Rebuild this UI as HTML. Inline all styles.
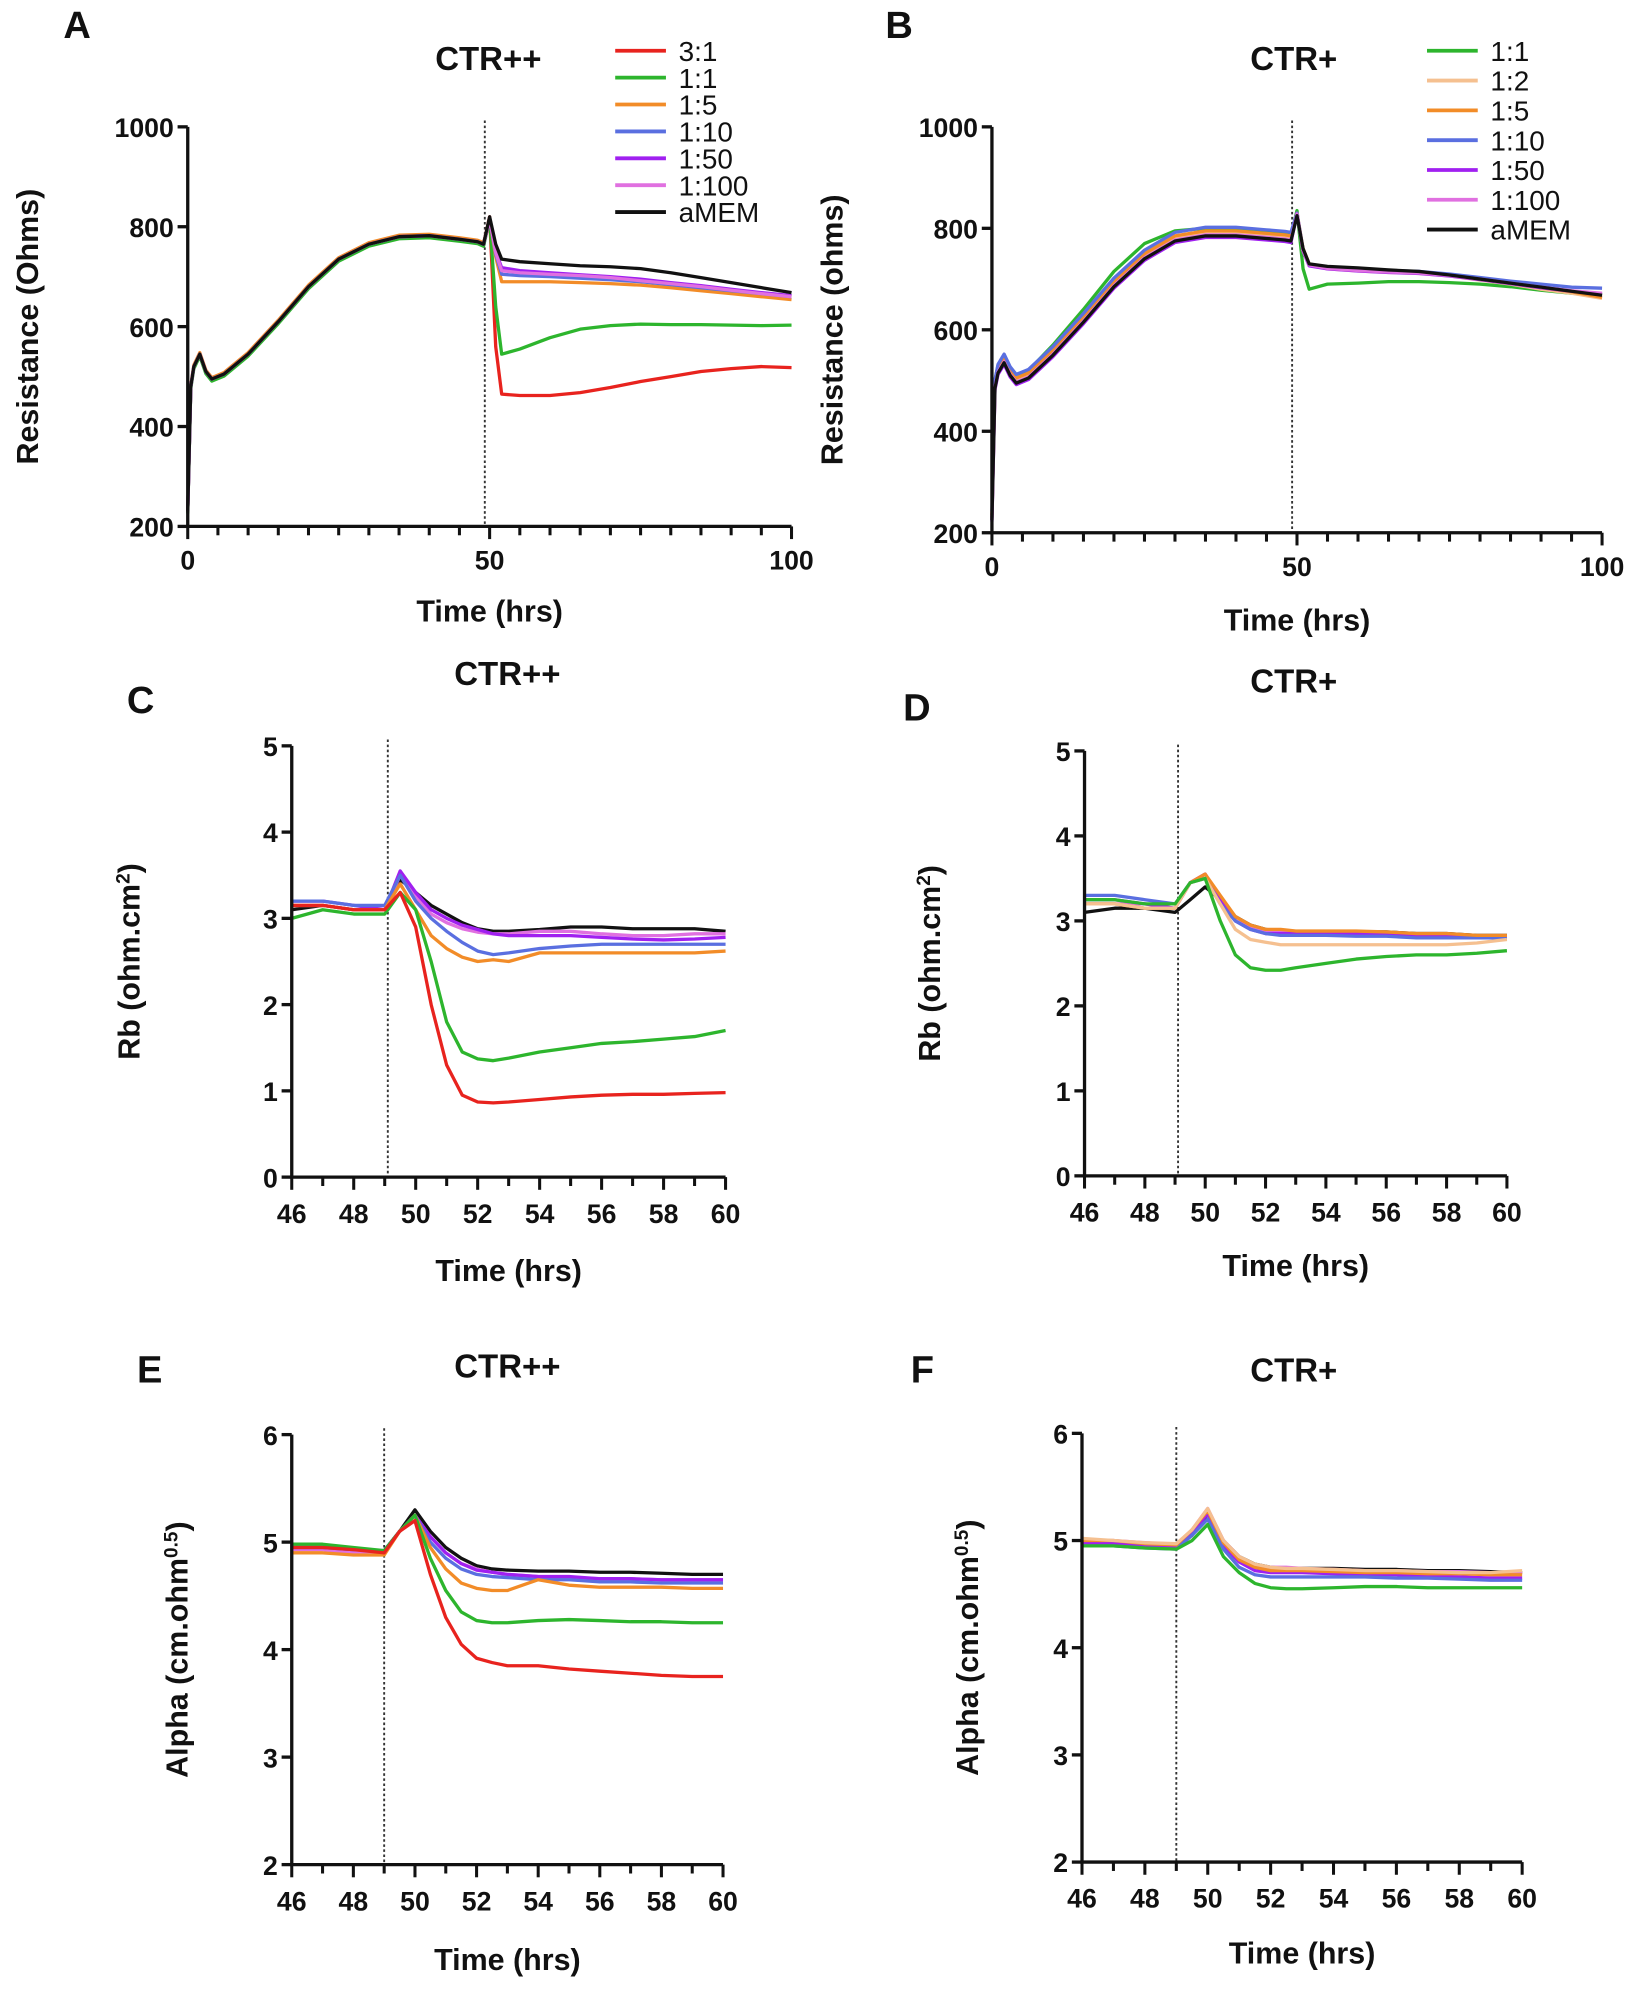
<!DOCTYPE html>
<html><head><meta charset="utf-8"><style>
html,body{margin:0;padding:0;background:#fff}
svg{display:block}
text{font-family:"Liberation Sans",Arial,sans-serif;font-weight:bold;fill:#111}
text.leg{font-weight:normal}
</style></head><body>
<svg id="fig" width="1649" height="1994" viewBox="0 0 1300 1572" xmlns="http://www.w3.org/2000/svg"></svg>
<script>
// ---- Panel A/B time points ----
const tAB = [0,0.5,1,2,3,4,6,10,15,20,25,30,35,40,45,48,49,50,51,52,55,60,65,70,75,80,85,90,95,100];
const preA = [230,480,520,545,510,495,505,545,610,680,735,765,780,782,775,770,765];
const a31 = [820,560,465,462,462,468,478,490,500,510,516,520,518];
const a11 = [815,640,545,555,578,595,602,605,604,604,603,602,603];
const a15 = [815,740,690,690,690,688,686,683,678,672,666,660,654];
const a110 = [815,745,705,702,700,697,694,690,684,678,672,666,660];
const a150 = [815,750,718,712,708,704,700,695,688,682,675,668,662];
const a1100 = [815,748,712,708,705,702,698,692,686,680,673,666,660];
const aMEM = [820,765,735,730,726,722,720,716,708,698,688,678,668];

const preB1 = [230,500,530,545,525,512,520,570,640,715,770,795,800,800,795,790,785];
const preB = [230,490,520,540,515,500,510,555,620,690,745,780,790,790,785,782,780];
const b11 = [835,720,680,690,692,695,695,693,690,685,678,672,668];
const b12 = [830,755,728,720,716,713,711,706,698,690,680,672,662];
const b15 = [830,760,730,722,718,715,713,708,700,692,683,675,664];
const b110 = [830,758,728,722,720,717,715,710,703,696,690,684,682];
const b150 = [828,755,726,720,716,713,711,706,699,691,683,676,670];
const b1100 = [828,757,728,721,717,714,712,707,700,692,684,677,672];
const bMEM = [825,760,730,725,722,718,715,708,700,692,684,676,668];

// ---- Panels C-F time points ----
const tCF = [46,47,48,49,49.5,50,50.5,51,51.5,52,52.5,53,54,55,56,57,58,59,60];
const c31 = [3.15,3.15,3.1,3.1,3.3,2.9,2.0,1.3,0.95,0.87,0.86,0.87,0.9,0.93,0.95,0.96,0.96,0.97,0.98];
const c11 = [3.0,3.1,3.05,3.05,3.3,3.1,2.5,1.8,1.45,1.37,1.35,1.38,1.45,1.5,1.55,1.57,1.6,1.63,1.7];
const c15 = [3.15,3.15,3.1,3.1,3.4,3.1,2.8,2.65,2.55,2.5,2.52,2.5,2.6,2.6,2.6,2.6,2.6,2.6,2.62];
const c110 = [3.2,3.2,3.15,3.15,3.5,3.2,3.0,2.85,2.72,2.62,2.58,2.6,2.65,2.68,2.7,2.7,2.7,2.7,2.7];
const c150 = [3.2,3.2,3.15,3.1,3.55,3.3,3.1,3.0,2.92,2.87,2.82,2.8,2.8,2.8,2.78,2.76,2.75,2.76,2.78];
const c1100 = [3.15,3.15,3.1,3.1,3.5,3.25,3.05,2.95,2.88,2.84,2.82,2.82,2.85,2.85,2.82,2.8,2.8,2.82,2.82];
const cMEM = [3.1,3.15,3.1,3.1,3.45,3.3,3.15,3.05,2.95,2.88,2.85,2.85,2.87,2.9,2.9,2.88,2.88,2.88,2.85];

const d11 = [3.25,3.25,3.2,3.2,3.45,3.5,3.0,2.6,2.45,2.42,2.42,2.45,2.5,2.55,2.58,2.6,2.6,2.62,2.65];
const d12 = [3.2,3.2,3.15,3.15,3.45,3.5,3.2,2.9,2.78,2.75,2.72,2.72,2.72,2.72,2.72,2.72,2.72,2.74,2.78];
const d15 = [3.2,3.2,3.15,3.15,3.45,3.55,3.3,3.05,2.95,2.9,2.9,2.88,2.88,2.88,2.87,2.85,2.85,2.83,2.83];
const d110 = [3.3,3.3,3.25,3.2,3.45,3.5,3.2,3.0,2.9,2.85,2.83,2.83,2.83,2.82,2.82,2.8,2.8,2.8,2.8];
const d150 = [3.25,3.25,3.2,3.15,3.45,3.55,3.25,3.0,2.9,2.85,2.85,2.85,2.85,2.85,2.85,2.83,2.82,2.8,2.8];
const d1100 = [3.2,3.2,3.2,3.15,3.45,3.55,3.25,3.0,2.92,2.88,2.88,2.87,2.85,2.85,2.85,2.83,2.83,2.82,2.82];
const dMEM = [3.1,3.15,3.15,3.1,3.25,3.4,3.25,3.05,2.95,2.9,2.88,2.87,2.87,2.87,2.87,2.85,2.85,2.83,2.83];

const e31 = [4.95,4.95,4.93,4.9,5.1,5.2,4.7,4.3,4.05,3.92,3.88,3.85,3.85,3.82,3.8,3.78,3.76,3.75,3.75];
const e11 = [4.98,4.98,4.95,4.92,5.1,5.25,4.85,4.55,4.35,4.27,4.25,4.25,4.27,4.28,4.27,4.26,4.26,4.25,4.25];
const e15 = [4.9,4.9,4.88,4.88,5.1,5.25,4.95,4.75,4.62,4.57,4.55,4.55,4.65,4.6,4.58,4.58,4.58,4.57,4.57];
const e110 = [4.95,4.95,4.93,4.92,5.1,5.25,5.0,4.85,4.75,4.7,4.68,4.67,4.65,4.65,4.63,4.63,4.62,4.62,4.62];
const e150 = [4.95,4.95,4.93,4.92,5.1,5.25,5.05,4.9,4.8,4.74,4.72,4.7,4.68,4.68,4.66,4.66,4.65,4.65,4.65];
const e1100 = [4.93,4.93,4.9,4.9,5.1,5.25,5.05,4.9,4.8,4.75,4.72,4.7,4.68,4.67,4.66,4.66,4.65,4.65,4.65];
const eMEM = [4.95,4.95,4.93,4.92,5.1,5.3,5.1,4.95,4.85,4.78,4.75,4.74,4.73,4.73,4.72,4.72,4.71,4.7,4.7];

const f11 = [4.95,4.95,4.93,4.92,5.0,5.15,4.85,4.7,4.6,4.56,4.55,4.55,4.56,4.57,4.57,4.56,4.56,4.56,4.56];
const f12 = [5.02,5.0,4.98,4.97,5.1,5.3,5.0,4.85,4.78,4.75,4.74,4.74,4.73,4.72,4.72,4.71,4.7,4.7,4.72];
const f15 = [5.0,5.0,4.97,4.96,5.1,5.28,4.98,4.82,4.75,4.72,4.72,4.72,4.71,4.7,4.7,4.69,4.69,4.68,4.68];
const f110 = [4.95,4.95,4.93,4.92,5.05,5.2,4.92,4.75,4.68,4.66,4.66,4.66,4.66,4.66,4.65,4.65,4.64,4.63,4.63];
const f150 = [4.97,4.97,4.95,4.93,5.08,5.25,4.95,4.8,4.72,4.7,4.7,4.7,4.69,4.68,4.68,4.67,4.66,4.65,4.65];
const f1100 = [5.0,5.0,4.98,4.96,5.1,5.3,5.0,4.85,4.77,4.75,4.75,4.74,4.73,4.72,4.72,4.71,4.71,4.7,4.7];
const fMEM = [4.97,4.97,4.95,4.93,5.05,5.25,5.0,4.85,4.78,4.75,4.74,4.74,4.74,4.73,4.73,4.72,4.72,4.71,4.7];

const C = {red:"#e8231e",green:"#2db52d",orange:"#f28c28",blue:"#5a6fe0",purple:"#a020f0",pink:"#e070e0",peach:"#f5c090",black:"#111"};
const NS = "http://www.w3.org/2000/svg";
const svg = document.getElementById("fig");
function el(tag, attrs, parent, txt){
  const e = document.createElementNS(NS, tag);
  for (const k in attrs) e.setAttribute(k, attrs[k]);
  if (txt !== undefined) e.textContent = txt;
  (parent||svg).appendChild(e);
  return e;
}

function panel(p){
  const g = el("g", {});
  
  
  const sx = v => p.x0 + (v - p.xmin) / (p.xmax - p.xmin) * (p.x1 - p.x0);
  const sy = v => p.y0 - (v - p.ymin) / (p.ymax - p.ymin) * (p.y0 - p.y1);
  const L = el("text", {x:p.lx, y:p.ly, "font-size":30}, g, p.letter);
  
  
  const T = el("text", {x:p.tx, y:p.ty, "font-size":26, "text-anchor":"middle"}, g, p.title);
  
  
  const dl = el("line", {x1:sx(p.dot), x2:sx(p.dot), y1:p.y1-5, y2:p.y0, stroke:"#333", "stroke-width":1.5, "stroke-dasharray":"2,2"}, g);
  
  
  p.series.forEach(s => {
    let d = "";
    s.t.forEach((t,i) => { d += (i? "L":"M") + sx(t).toFixed(1) + "," + sy(s.v[i]).toFixed(1); });
    const path = el("path", {d:d, fill:"none", stroke:s.c, "stroke-width":2.6, "stroke-linejoin":"round"}, g);
    
    
  });
  const ax = el("path", {d:`M${p.x0},${p.y1}L${p.x0},${p.y0}L${p.x1},${p.y0}`, fill:"none", stroke:"#111", "stroke-width":2.6}, g);
  
  
  p.yticks.forEach(v => {
    el("line", {x1:p.x0-8, x2:p.x0, y1:sy(v), y2:sy(v), stroke:"#111", "stroke-width":2.6}, g);
    const t = el("text", {x:p.x0-11, y:sy(v)+8, "font-size":21, "text-anchor":"end"}, g, v);
    
    
  });
  for (let v = p.xmin; v <= p.xmax + 1e-9; v += p.xminor) {
    const major = p.xticks.includes(Math.round(v*100)/100);
    el("line", {x1:sx(v), x2:sx(v), y1:p.y0, y2:p.y0 + (major?10:7), stroke:"#111", "stroke-width":2.4}, g);
  }
  p.xticks.forEach(v => {
    const t = el("text", {x:sx(v), y:p.y0+p.xlo, "font-size":21, "text-anchor":"middle"}, g, v);
    
    
  });
  const xt = el("text", {x:(p.x0+p.x1)/2, y:p.xty, "font-size":24, "text-anchor":"middle"}, g, "Time (hrs)");
  
  
  const yt = el("text", {x:0, y:0, "font-size":24, "text-anchor":"middle", transform:`translate(${p.ytx},${(p.y0+p.y1)/2}) rotate(-90)`}, g);
  
  
  el("tspan", {}, yt, p.ytitle);
  if (p.sup) {
    el("tspan", {"baseline-shift":"super", "font-size":15}, yt, p.sup);
    el("tspan", {}, yt, ")");
  }
  if (p.legend) {
    p.series.forEach((s,i) => {
      const y = p.legend.y + i * p.legend.dy;
      const lg = el("g", {}, g);
      
      
      el("line", {x1:p.legend.x, x2:p.legend.x+40, y1:y, y2:y, stroke:s.c, "stroke-width":3}, lg);
      el("text", {x:p.legend.x+50, y:y+8, "font-size":22, "class":"leg"}, lg, s.label);
    });
  }
}

function mk(pre, post){ return pre.concat(post); }
function S(label, c, t, v){ return {label, c, t, v}; }

panel({name:"panel-a", letter:"A", lx:50, ly:30, title:"CTR++", tx:385, ty:55,
  x0:148, x1:624, y0:415, y1:100, xmin:0, xmax:100, ymin:200, ymax:1000,
  yticks:[200,400,600,800,1000], xticks:[0,50,100], xminor:5, xlo:34, xty:490, dot:49.2,
  ytx:30, ytitle:"Resistance (Ohms)", legend:{x:485, y:40, dy:21.2},
  series:[S("3:1",C.red,tAB,mk(preA,a31)), S("1:1",C.green,tAB,mk(preA.map(v=>v-4),a11)),
    S("1:5",C.orange,tAB,mk(preA.map(v=>v+3),a15)), S("1:10",C.blue,tAB,mk(preA,a110)),
    S("1:50",C.purple,tAB,mk(preA,a150)), S("1:100",C.pink,tAB,mk(preA,a1100)),
    S("aMEM",C.black,tAB,mk(preA,aMEM))]});

panel({name:"panel-b", letter:"B", lx:698, ly:30, title:"CTR+", tx:1020, ty:55,
  x0:782, x1:1263, y0:420, y1:100, xmin:0, xmax:100, ymin:200, ymax:1000,
  yticks:[200,400,600,800,1000], xticks:[0,50,100], xminor:5, xlo:34, xty:497, dot:49.2,
  ytx:664, ytitle:"Resistance (ohms)", legend:{x:1125, y:40, dy:23.5},
  series:[S("1:1",C.green,tAB,mk(preB1,b11)), S("1:2",C.peach,tAB,mk(preB,b12)),
    S("1:5",C.orange,tAB,mk(preB.map(v=>v+5),b15)), S("1:10",C.blue,tAB,mk(preB.map(v=>v+12),b110)),
    S("1:50",C.purple,tAB,mk(preB.map(v=>v-8),b150)), S("1:100",C.pink,tAB,mk(preB.map(v=>v-3),b1100)),
    S("aMEM",C.black,tAB,mk(preB.map(v=>v-5),bMEM))]});

panel({name:"panel-c", letter:"C", lx:100, ly:562, title:"CTR++", tx:400, ty:540,
  x0:230, x1:572, y0:928, y1:588, xmin:46, xmax:60, ymin:0, ymax:5,
  yticks:[0,1,2,3,4,5], xticks:[46,48,50,52,54,56,58,60], xminor:1, xlo:36, xty:1010, dot:49.1,
  ytx:110, ytitle:"Rb (ohm.cm", sup:"2",
  series:[S("aMEM",C.black,tCF,cMEM), S("1:100",C.pink,tCF,c1100), S("1:50",C.purple,tCF,c150),
    S("1:10",C.blue,tCF,c110), S("1:5",C.orange,tCF,c15), S("1:1",C.green,tCF,c11), S("3:1",C.red,tCF,c31)]});

panel({name:"panel-d", letter:"D", lx:712, ly:568, title:"CTR+", tx:1020, ty:546,
  x0:855, x1:1188, y0:927, y1:592, xmin:46, xmax:60, ymin:0, ymax:5,
  yticks:[0,1,2,3,4,5], xticks:[46,48,50,52,54,56,58,60], xminor:1, xlo:36, xty:1006, dot:49.1,
  ytx:741, ytitle:"Rb (ohm.cm", sup:"2",
  series:[S("aMEM",C.black,tCF,dMEM), S("1:100",C.pink,tCF,d1100), S("1:50",C.purple,tCF,d150),
    S("1:10",C.blue,tCF,d110), S("1:5",C.orange,tCF,d15), S("1:2",C.peach,tCF,d12), S("1:1",C.green,tCF,d11)]});

panel({name:"panel-e", letter:"E", lx:108, ly:1090, title:"CTR++", tx:400, ty:1086,
  x0:230, x1:570, y0:1470, y1:1131, xmin:46, xmax:60, ymin:2, ymax:6,
  yticks:[2,3,4,5,6], xticks:[46,48,50,52,54,56,58,60], xminor:1, xlo:36, xty:1553, dot:49,
  ytx:148, ytitle:"Alpha (cm.ohm", sup:"0.5",
  series:[S("aMEM",C.black,tCF,eMEM), S("1:100",C.pink,tCF,e1100), S("1:50",C.purple,tCF,e150),
    S("1:10",C.blue,tCF,e110), S("1:5",C.orange,tCF,e15), S("1:1",C.green,tCF,e11), S("3:1",C.red,tCF,e31)]});

panel({name:"panel-f", letter:"F", lx:718, ly:1090, title:"CTR+", tx:1020, ty:1089,
  x0:853, x1:1200, y0:1468, y1:1130, xmin:46, xmax:60, ymin:2, ymax:6,
  yticks:[2,3,4,5,6], xticks:[46,48,50,52,54,56,58,60], xminor:1, xlo:36, xty:1548, dot:49,
  ytx:771, ytitle:"Alpha (cm.ohm", sup:"0.5",
  series:[S("aMEM",C.black,tCF,fMEM), S("1:100",C.pink,tCF,f1100), S("1:50",C.purple,tCF,f150),
    S("1:10",C.blue,tCF,f110), S("1:5",C.orange,tCF,f15), S("1:2",C.peach,tCF,f12), S("1:1",C.green,tCF,f11)]});
</script>
</body></html>
